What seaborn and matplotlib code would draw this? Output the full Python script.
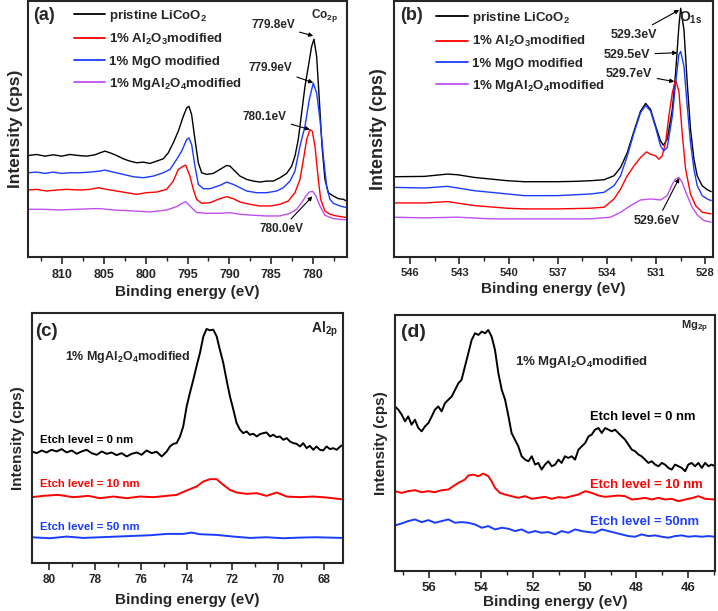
import pandas as pd
import matplotlib
matplotlib.use("Agg")
import matplotlib.pyplot as plt
from matplotlib.ticker import MultipleLocator
import seaborn as sns

# ---------------- data (arbitrary cps units) ----------------
LAB_PRISTINE = "pristine LiCoO$_2$"
LAB_AL = "1% Al$_2$O$_3$modified"
LAB_MGO = "1% MgO modified"
LAB_SPINEL = "1% MgAl$_2$O$_4$modified"

# (a) Co 2p
a_black_x = [814.00, 813.01, 812.01, 811.02, 810.02, 809.03, 808.03, 807.04, 806.04, 805.45,
             804.85, 804.25, 803.46, 802.66, 801.87, 801.07, 800.28, 799.48, 798.68, 797.89,
             797.29, 796.70, 796.10, 795.50, 795.10, 794.83, 794.51, 794.11, 793.71, 793.31,
             792.72, 791.92, 791.13, 790.33, 789.93, 789.54, 788.74, 787.94, 787.15, 786.35,
             785.56, 784.76, 783.97, 783.17, 782.57, 782.18, 781.78, 781.38, 780.98, 780.58,
             780.19, 779.91, 779.59, 779.27, 778.95, 778.60, 778.20, 777.60, 777.00, 776.41, 776.01]
a_black_y = [307, 310, 305, 309, 305, 310, 307, 305, 309, 315,
             320, 315, 307, 297, 290, 285, 287, 283, 290, 297,
             315, 345, 380, 425, 450, 455, 430, 355, 285, 255,
             250, 253, 265, 277, 275, 265, 245, 235, 230, 227,
             230, 230, 240, 253, 275, 305, 355, 435, 515, 575,
             635, 657, 605, 475, 335, 235, 195, 185, 177, 175, 170]

a_blue_x = [814.00, 813.01, 812.01, 811.02, 810.02, 809.03, 807.83, 806.64, 805.45, 804.85,
            803.86, 802.66, 801.47, 800.28, 799.08, 797.89, 797.09, 796.30, 795.70, 795.10,
            794.83, 794.51, 794.11, 793.71, 793.12, 792.32, 791.13, 790.33, 789.54, 788.74,
            787.94, 786.75, 785.56, 784.36, 783.57, 782.77, 782.18, 781.58, 780.98, 780.47,
            779.99, 779.59, 779.19, 778.79, 778.40, 778.00, 777.60, 776.81, 776.01]
a_blue_y = [255, 257, 253, 257, 253, 255, 255, 257, 260, 263,
            257, 250, 243, 240, 245, 255, 265, 295, 320, 355,
            360, 340, 275, 220, 207, 207, 217, 227, 220, 210,
            200, 195, 195, 200, 210, 230, 260, 335, 395, 475,
            525, 495, 415, 305, 215, 175, 163, 155, 150]

a_red_x = [814.00, 813.01, 811.81, 810.62, 809.43, 807.83, 806.64, 805.65, 804.65, 803.46,
           802.26, 801.07, 799.88, 798.68, 797.49, 796.70, 796.10, 795.50, 795.22, 794.71,
           794.31, 793.91, 793.31, 792.32, 791.13, 790.33, 789.54, 788.74, 787.55, 786.35,
           785.16, 783.97, 782.97, 782.18, 781.58, 781.10, 780.78, 780.39, 780.11, 779.79,
           779.39, 779.11, 778.60, 778.00, 777.20, 776.01]
a_red_y = [203, 205, 200, 203, 205, 203, 205, 210, 205, 200,
           195, 190, 195, 197, 205, 230, 265, 275, 278, 245,
           205, 175, 163, 165, 177, 183, 177, 167, 160, 155,
           155, 160, 170, 195, 235, 305, 355, 385, 380, 335,
           235, 175, 140, 130, 125, 120]

a_purple_x = [814.00, 812.21, 810.22, 808.23, 806.24, 805.45, 803.86, 801.47, 799.48, 797.49,
              796.30, 795.50, 795.22, 794.71, 793.91, 792.72, 791.13, 789.93, 788.74, 787.15,
              785.56, 783.97, 782.77, 781.98, 781.38, 780.86, 780.47, 780.07, 779.67, 779.19,
              778.60, 777.60, 776.01]
a_purple_y = [145, 145, 143, 145, 147, 147, 143, 140, 137, 143,
              153, 165, 168, 155, 135, 133, 133, 135, 130, 127,
              125, 125, 133, 145, 165, 185, 197, 199, 185, 155,
              127, 117, 113]

# (b) O 1s
b_black_x = [547.08, 545.15, 543.73, 543.12, 542.10, 541.09, 540.07, 539.05, 538.04, 537.02,
             536.01, 534.99, 534.17, 533.56, 533.16, 532.75, 532.34, 531.94, 531.63, 531.33,
             531.02, 530.72, 530.55, 530.31, 530.00, 529.80, 529.60, 529.49, 529.29, 529.09,
             528.89, 528.68, 528.48, 528.18, 527.87, 527.63]
b_black_y = [242, 243, 250, 248, 240, 235, 230, 227, 227, 227,
             228, 230, 233, 245, 270, 315, 380, 440, 463, 445,
             395, 350, 337, 355, 445, 555, 695, 750, 685, 525,
             385, 295, 245, 215, 203, 197]

b_blue_x = [547.08, 545.15, 543.73, 542.10, 540.07, 539.05, 537.02, 534.99, 534.17, 533.56,
            533.16, 532.75, 532.34, 531.94, 531.63, 531.33, 531.02, 530.72, 530.51, 530.31,
            530.00, 529.80, 529.60, 529.49, 529.29, 529.09, 528.89, 528.68, 528.48, 528.18,
            527.87, 527.63]
b_blue_y = [210, 208, 213, 200, 190, 185, 185, 190, 195, 215,
            245, 305, 375, 435, 457, 440, 390, 335, 320, 330,
            425, 525, 610, 620, 575, 455, 345, 265, 215, 185,
            175, 170]

b_red_x = [547.08, 545.15, 543.73, 542.10, 540.07, 539.05, 537.02, 534.99, 534.17, 533.56,
           533.16, 532.75, 532.34, 531.94, 531.57, 531.33, 531.02, 530.82, 530.62, 530.41,
           530.21, 530.00, 529.80, 529.60, 529.40, 529.19, 528.89, 528.58, 528.18, 527.63]
b_red_y = [163, 163, 167, 155, 147, 145, 145, 147, 150, 175,
           205, 245, 275, 300, 317, 310, 305, 295, 305, 345,
           425, 495, 535, 500, 375, 265, 190, 155, 135, 130]

b_purple_x = [547.08, 545.15, 543.12, 541.09, 539.05, 537.02, 534.99, 533.77, 533.16, 532.55,
              531.94, 531.33, 530.72, 530.31, 530.00, 529.80, 529.60, 529.40, 529.09, 528.79,
              528.48, 528.07, 527.63]
b_purple_y = [120, 118, 120, 115, 115, 115, 115, 120, 135, 155,
              172, 175, 172, 185, 220, 235, 240, 225, 185, 150,
              127, 110, 105]

# (c) Al 2p
c_0nm_x = [80.77, 80.55, 80.33, 80.12, 79.90, 79.68, 79.46, 79.24, 79.02, 78.80,
           78.59, 78.37, 78.15, 77.93, 77.71, 77.49, 77.28, 77.06, 76.84, 76.62,
           76.40, 76.18, 75.97, 75.75, 75.53, 75.31, 75.09, 74.87, 74.73, 74.58,
           74.44, 74.29, 74.15, 74.00, 73.86, 73.71, 73.57, 73.42, 73.27, 73.13,
           72.98, 72.84, 72.69, 72.55, 72.40, 72.26, 72.11, 71.96, 71.82, 71.67,
           71.53, 71.38, 71.24, 71.09, 70.94, 70.80, 70.65, 70.51, 70.36, 70.22,
           70.07, 69.93, 69.78, 69.63, 69.49, 69.34, 69.20, 69.05, 68.91, 68.76,
           68.62, 68.47, 68.33, 68.18, 68.04, 67.89, 67.74, 67.60, 67.45, 67.24]
c_0nm_y = [335, 330, 338, 332, 340, 335, 342, 332, 338, 328,
           335, 340, 330, 325, 335, 328, 332, 324, 330, 320,
           328, 332, 325, 338, 330, 334, 320, 335, 350, 358,
           360, 380, 410, 470, 510, 550, 590, 630, 680, 702,
           698, 700, 680, 640, 600, 550, 500, 460, 420, 400,
           390, 395, 385, 388, 380, 387, 390, 392, 380, 385,
           378, 380, 370, 375, 365, 360, 358, 350, 360, 345,
           352, 340, 350, 340, 338, 350, 342, 345, 340, 353]

c_10nm_x = [80.77, 80.26, 79.61, 78.95, 78.30, 77.79, 77.20, 76.62, 76.04, 75.46,
            74.87, 74.44, 74.00, 73.57, 73.27, 72.98, 72.69, 72.40, 72.11, 71.82,
            71.38, 70.94, 70.51, 70.07, 69.63, 69.05, 68.47, 67.89, 67.24]
c_10nm_y = [198, 202, 205, 198, 202, 195, 200, 195, 200, 198,
            202, 205, 218, 230, 245, 252, 252, 235, 220, 212,
            208, 210, 202, 212, 200, 198, 200, 197, 192]

c_50nm_x = [80.77, 79.97, 79.24, 78.51, 77.79, 77.06, 76.33, 75.60, 74.87, 74.15,
            73.78, 73.42, 72.69, 71.96, 71.24, 70.51, 69.78, 69.05, 68.33, 67.24]
c_50nm_y = [78, 75, 80, 76, 78, 80, 82, 84, 88, 88,
            92, 87, 85, 80, 76, 78, 75, 77, 78, 76]

# (d) Mg 2p
d_0nm_x = [57.32, 57.19, 57.06, 56.93, 56.81, 56.68, 56.55, 56.42, 56.29, 56.16,
           56.03, 55.90, 55.78, 55.65, 55.52, 55.39, 55.26, 55.13, 55.00, 54.87,
           54.75, 54.62, 54.49, 54.36, 54.23, 54.10, 53.97, 53.84, 53.72, 53.59,
           53.46, 53.33, 53.20, 53.07, 52.94, 52.82, 52.69, 52.56, 52.43, 52.30,
           52.17, 52.04, 51.91, 51.79, 51.66, 51.53, 51.40, 51.27, 51.14, 51.01,
           50.89, 50.76, 50.63, 50.50, 50.37, 50.24, 50.11, 49.98, 49.85, 49.73,
           49.60, 49.47, 49.34, 49.21, 49.08, 48.95, 48.83, 48.70, 48.57, 48.44,
           48.31, 48.18, 48.05, 47.92, 47.80, 47.67, 47.54, 47.41, 47.28, 47.15,
           47.02, 46.90, 46.77, 46.64, 46.51, 46.38, 46.25, 46.12, 46.00, 45.87,
           45.74, 45.61, 45.48, 45.35, 45.22, 45.10, 44.97]
d_0nm_y = [495, 485, 470, 450, 465, 440, 455, 430, 420, 435,
           445, 465, 485, 495, 480, 505, 515, 525, 545, 565,
           575, 615, 655, 695, 715, 710, 720, 715, 725, 705,
           665, 595, 545, 515, 465, 415, 395, 375, 345, 335,
           330, 345, 320, 325, 305, 320, 330, 315, 320, 335,
           325, 345, 340, 345, 335, 365, 375, 385, 405, 410,
           425, 430, 415, 430, 425, 420, 425, 415, 405, 395,
           380, 365, 360, 350, 345, 335, 325, 330, 320, 315,
           325, 320, 310, 305, 320, 315, 310, 300, 320, 325,
           315, 325, 310, 325, 315, 320, 315]

d_10nm_x = [57.32, 57.06, 56.81, 56.55, 56.29, 56.03, 55.78, 55.52, 55.26, 55.07,
            54.87, 54.62, 54.49, 54.30, 54.10, 53.91, 53.72, 53.59, 53.46, 53.27,
            53.07, 52.82, 52.56, 52.30, 52.04, 51.79, 51.53, 51.27, 51.01, 50.76,
            50.50, 50.24, 49.98, 49.73, 49.47, 49.21, 48.95, 48.70, 48.44, 48.18,
            47.92, 47.67, 47.41, 47.15, 46.90, 46.64, 46.38, 46.12, 45.87, 45.61,
            45.35, 44.97]
d_10nm_y = [240, 235, 240, 243, 237, 240, 237, 243, 245, 255,
            265, 275, 287, 290, 285, 293, 285, 270, 250, 235,
            230, 225, 220, 225, 217, 220, 223, 217, 222, 220,
            225, 230, 240, 235, 227, 223, 225, 227, 225, 215,
            217, 220, 215, 220, 215, 217, 210, 215, 219, 225,
            217, 215]

d_50nm_x = [57.32, 57.06, 56.81, 56.55, 56.29, 56.03, 55.78, 55.52, 55.26, 55.00,
            54.75, 54.49, 54.23, 53.97, 53.72, 53.46, 53.20, 52.94, 52.69, 52.43,
            52.17, 51.91, 51.66, 51.40, 51.14, 50.89, 50.63, 50.37, 50.11, 49.85,
            49.60, 49.34, 49.08, 48.83, 48.57, 48.31, 48.05, 47.80, 47.54, 47.28,
            47.02, 46.77, 46.51, 46.25, 46.00, 45.74, 45.48, 45.22, 44.97]
d_50nm_y = [137, 143, 150, 155, 147, 153, 145, 150, 155, 145,
            147, 145, 140, 130, 135, 125, 130, 127, 120, 125,
            115, 120, 115, 117, 110, 120, 115, 125, 120, 117,
            115, 125, 120, 115, 110, 105, 103, 110, 105, 107,
            103, 100, 105, 107, 103, 105, 103, 105, 103]

BLACK, RED, BLUE, PURPLE = "#000000", "#ff0000", "#1a3cff", "#c04ff0"

# ---------------- style ----------------
sns.set_style("ticks")
plt.rcParams["font.family"] = ["Liberation Sans", "DejaVu Sans"]
plt.rcParams["font.weight"] = "bold"
plt.rcParams["axes.labelweight"] = "bold"
plt.rcParams["mathtext.fontset"] = "custom"
plt.rcParams["mathtext.rm"] = "Liberation Sans:bold"
plt.rcParams["mathtext.it"] = "Liberation Sans:bold"
plt.rcParams["mathtext.bf"] = "Liberation Sans:bold"
plt.rcParams["mathtext.default"] = "rm"


def draw(ax, curves, lw, legend):
    frames = [pd.DataFrame({"energy": x, "intensity": y, "sample": name}) for name, x, y, c in curves]
    df = pd.concat(frames, ignore_index=True)
    palette = {name: c for name, x, y, c in curves}
    sns.lineplot(data=df, x="energy", y="intensity", hue="sample", palette=palette,
                 sort=False, estimator=None, errorbar=None, lw=lw, ax=ax, legend=legend)


def style(ax, xlim, ylim, major, minor, tick_fs, xl_fs, yl_fs, ypad, xpad):
    ax.set_xlim(*xlim)
    ax.set_ylim(*ylim)
    ax.xaxis.set_major_locator(MultipleLocator(major))
    ax.xaxis.set_minor_locator(MultipleLocator(minor))
    ax.set_yticks([])
    ax.tick_params(axis="x", which="major", direction="out", length=5, width=1.2,
                   labelsize=tick_fs, pad=3)
    ax.tick_params(axis="x", which="minor", direction="out", length=3, width=1.0)
    for s in ax.spines.values():
        s.set_linewidth(1.5)
    ax.set_xlabel("Binding energy (eV)", fontsize=xl_fs, labelpad=xpad)
    ax.set_ylabel("Intensity (cps)", fontsize=yl_fs, labelpad=ypad)


def arrow_label(ax, text, tip, pos, fs):
    ax.annotate(text, xy=tip, xytext=pos, ha="center", va="center", fontsize=fs,
                arrowprops=dict(arrowstyle="-|>", color="black", lw=0.8,
                                mutation_scale=6, shrinkA=1, shrinkB=0))


fig = plt.figure(figsize=(7.18, 6.11), dpi=100)
ax_a = fig.add_axes([0.0394, 0.5786, 0.4435, 0.4198])
ax_b = fig.add_axes([0.5487, 0.5794, 0.4447, 0.4190])
ax_c = fig.add_axes([0.0441, 0.0781, 0.4340, 0.4097])
ax_d = fig.add_axes([0.5501, 0.0655, 0.4457, 0.4190])

# (a)
draw(ax_a, [(LAB_PRISTINE, a_black_x, a_black_y, BLACK),
            (LAB_AL, a_red_x, a_red_y, RED),
            (LAB_MGO, a_blue_x, a_blue_y, BLUE),
            (LAB_SPINEL, a_purple_x, a_purple_y, PURPLE)], 1.0, True)
style(ax_a, (814.0, 776.0), (0, 772), 5, 2.5, 9, 11, 12.5, 4, 3)
h, l = ax_a.get_legend_handles_labels()
for hh in h:
    hh.set_linewidth(1.3)
ax_a.legend(h, l, loc="upper left", bbox_to_anchor=(0.145, 0.973), frameon=False,
            fontsize=9.5, handlelength=2.3, handletextpad=0.3, labelspacing=0.62,
            borderpad=0, borderaxespad=0)
ax_a.text(0.015, 0.945, "(a)", transform=ax_a.transAxes, fontsize=13, va="center")
ax_a.text(778.6, 727, "Co$_{2p}$", fontsize=8.5, ha="center", va="center")
arrow_label(ax_a, "779.8eV", (780.0, 667), (784.8, 700), 8.5)
arrow_label(ax_a, "779.9eV", (780.0, 526), (785.1, 571), 8.5)
arrow_label(ax_a, "780.1eV", (780.4, 385), (785.8, 424), 8.5)
arrow_label(ax_a, "780.0eV", (780.1, 184), (783.8, 85), 8.5)

# (b)
draw(ax_b, [(LAB_PRISTINE, b_black_x, b_black_y, BLACK),
            (LAB_AL, b_red_x, b_red_y, RED),
            (LAB_MGO, b_blue_x, b_blue_y, BLUE),
            (LAB_SPINEL, b_purple_x, b_purple_y, PURPLE)], 1.0, True)
style(ax_b, (547.0, 527.5), (0, 772), 3, 1.5, 8, 11, 13, 5, 3)
h, l = ax_b.get_legend_handles_labels()
for hh in h:
    hh.set_linewidth(1.3)
ax_b.legend(h, l, loc="upper left", bbox_to_anchor=(0.1315, 0.965), frameon=False,
            fontsize=9.5, handlelength=2.4, handletextpad=0.3, labelspacing=0.62,
            borderpad=0, borderaxespad=0)
ax_b.text(0.019, 0.945, "(b)", transform=ax_b.transAxes, fontsize=13, va="center")
ax_b.text(528.85, 721, "O$_{1s}$", fontsize=10, ha="center", va="center")
arrow_label(ax_b, "529.3eV", (529.58, 745), (532.32, 670), 9)
arrow_label(ax_b, "529.5eV", (529.70, 616), (532.75, 610), 9)
arrow_label(ax_b, "529.7eV", (529.88, 529), (532.63, 553), 9)
arrow_label(ax_b, "529.6eV", (529.58, 238), (530.92, 109), 9)

# (c)
draw(ax_c, [("0 nm", c_0nm_x, c_0nm_y, BLACK),
            ("10 nm", c_10nm_x, c_10nm_y, RED),
            ("50 nm", c_50nm_x, c_50nm_y, BLUE)], 1.4, False)
style(ax_c, (80.77, 67.16), (0, 750), 2, 1, 8.5, 11, 11, 5, 5)
ax_c.text(0.011, 0.924, "(c)", transform=ax_c.transAxes, fontsize=13.5, va="center")
ax_c.text(68.0, 700, "Al$_{2p}$", fontsize=10, ha="center", va="center")
ax_c.text(79.31, 619, LAB_SPINEL, fontsize=9, ha="left", va="center")
ax_c.text(80.41, 370, "Etch level = 0 nm", fontsize=8.2, ha="left", va="center", color=BLACK)
ax_c.text(80.41, 238, "Etch level = 10 nm", fontsize=8.2, ha="left", va="center", color=RED)
ax_c.text(80.41, 109, "Etch level = 50 nm", fontsize=8.2, ha="left", va="center", color=BLUE)

# (d)
draw(ax_d, [("0 nm", d_0nm_x, d_0nm_y, BLACK),
            ("10 nm", d_10nm_x, d_10nm_y, RED),
            ("50 nm", d_50nm_x, d_50nm_y, BLUE)], 1.4, False)
style(ax_d, (57.32, 44.97), (0, 770), 2, 1, 9.5, 11, 11, 5, 1)
ax_d.text(0.019, 0.93, "(d)", transform=ax_d.transAxes, fontsize=14, va="center")
ax_d.text(45.78, 734, "Mg$_{2p}$", fontsize=8, ha="center", va="center")
ax_d.text(52.69, 629, LAB_SPINEL, fontsize=9.5, ha="left", va="center")
ax_d.text(49.79, 464, "Etch level = 0 nm", fontsize=9.4, ha="left", va="center", color=BLACK)
ax_d.text(49.79, 260, "Etch level = 10 nm", fontsize=9.4, ha="left", va="center", color=RED)
ax_d.text(49.79, 146, "Etch level = 50nm", fontsize=9.4, ha="left", va="center", color=BLUE)

fig.savefig("out.png", dpi=100)
